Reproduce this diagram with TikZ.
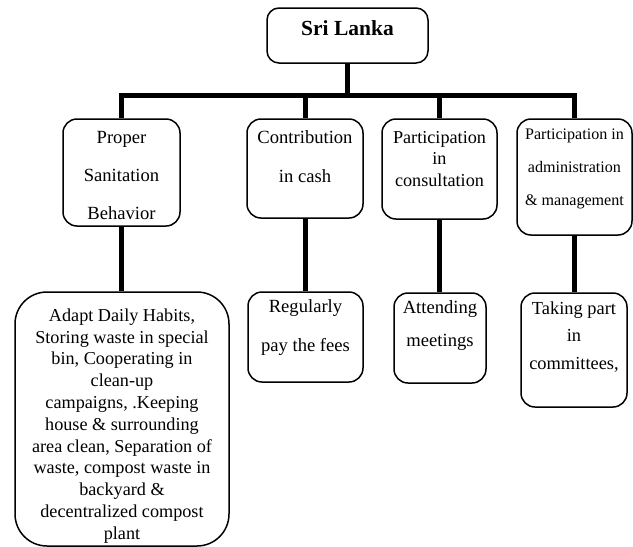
\documentclass[tikz,border=0pt]{standalone}
\usepackage{fontspec}
\setmainfont{Liberation Serif}
\begin{document}
\begin{tikzpicture}[x=1pt,y=-1pt,
  box/.style={draw, line width=1.5pt, rounded corners=14pt, inner sep=0pt, fill=white},
  conn/.style={line width=5pt},
  txt/.style={align=center, inner sep=0pt},
]
\useasboundingbox (0,0) rectangle (633,547);

% frames
\node[box, rounded corners=12pt, minimum width=161pt, minimum height=55pt] (top) at (347.5,35.5) {};
\node[box, minimum width=117pt, minimum height=107pt] (b1) at (121.5,172.5) {};
\node[box, minimum width=116pt, minimum height=99pt]  (b2) at (305,168.5) {};
\node[box, minimum width=115pt, minimum height=100pt] (b3) at (439.5,169) {};
\node[box, minimum width=115pt, minimum height=116pt] (b4) at (574.5,177) {};
\node[box, rounded corners=32pt, minimum width=214pt, minimum height=254pt] (b5) at (122,419) {};
\node[box, minimum width=115pt, minimum height=90pt]  (b6) at (305.5,337) {};
\node[box, minimum width=92pt,  minimum height=90pt]  (b7) at (440,338) {};
\node[box, minimum width=106pt, minimum height=114pt] (b8) at (574,350) {};

% texts
\node[txt, font=\fontsize{21.5}{24}\selectfont\bfseries] (ttop) at (347.5,28) {Sri Lanka};
\node[txt, font=\fontsize{18.6}{38}\selectfont] (t1) at (121.5,175) {Proper\\Sanitation\\Behavior};
\node[txt, font=\fontsize{18.6}{39}\selectfont] (t2) at (305,156.5) {Contribution\\in cash};
\node[txt, font=\fontsize{18.2}{21.5}\selectfont] (t3) at (439.5,158.7) {Participation\\in\\consultation};
\node[txt, font=\fontsize{16.1}{33}\selectfont] (t4) at (574.5,168.7) {Participation in\\administration\\\& management};
\node[txt, font=\fontsize{18.2}{21.8}\selectfont] (t5) at (122,426) {Adapt Daily Habits,\\Storing waste in special\\bin, Cooperating in\\clean-up\\campaigns, .Keeping\\house \& surrounding\\area clean, Separation of\\waste, compost waste in\\backyard \&\\decentralized compost\\plant};
\node[txt, font=\fontsize{18.6}{39}\selectfont] (t6) at (305.5,327.5) {Regularly\\pay the fees};
\node[txt, font=\fontsize{18.6}{33}\selectfont] (t7) at (440,325.5) {Attending\\meetings};
\node[txt, font=\fontsize{18.4}{27.5}\selectfont] (t8) at (574,336.7) {Taking part\\in\\committees,};

% connectors
\coordinate (bar) at (347.5,95);
\draw[conn] (top.south) -- (bar);
\draw[conn] (b1.north) -- (b1.north |- bar) -- (b4.north |- bar) -- (b4.north);
\draw[conn] (b2.north) -- (b2.north |- bar);
\draw[conn] (b3.north) -- (b3.north |- bar);
\draw[conn] (b1.south) -- (b1.south |- b5.north);
\draw[conn] (b2.south) -- (b2.south |- b6.north);
\draw[conn] (b3.south) -- (b3.south |- b7.north);
\draw[conn] (b4.south) -- (b4.south |- b8.north);
\end{tikzpicture}
\end{document}
